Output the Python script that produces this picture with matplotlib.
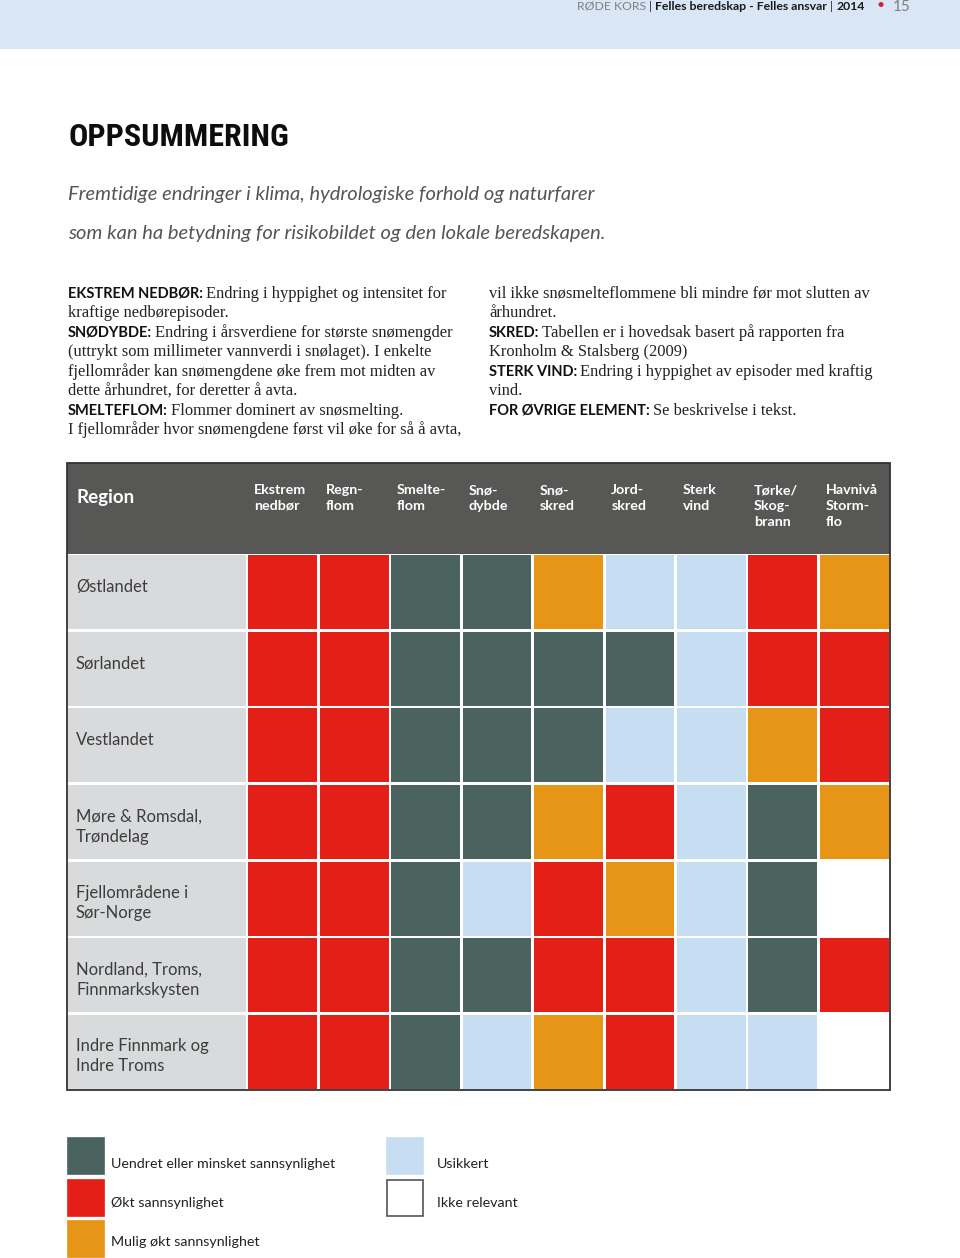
import matplotlib
matplotlib.use("Agg")
import matplotlib.pyplot as plt
from matplotlib.patches import Rectangle

# ---- data ----
regions = ["Østlandet", "Sørlandet", "Vestlandet", "Møre & Romsdal,\nTrøndelag",
           "Fjellområdene i\nSør-Norge", "Nordland, Troms,\nFinnmarkskysten",
           "Indre Finnmark og\nIndre Troms"]
hazards = ["Ekstrem\nnedbør", "Regn-\nflom", "Smelte-\nflom", "Snø-\ndybde", "Snø-\nskred",
           "Jord-\nskred", "Sterk\nvind", "Tørke/\nSkog-\nbrann", "Havnivå\nStorm-\nflo"]

# 0 = uendret/minsket, 1 = økt, 2 = mulig økt, 3 = usikkert, 4 = ikke relevant
ekstrem_nedbor = [1, 1, 1, 1, 1, 1, 1]
regnflom = [1, 1, 1, 1, 1, 1, 1]
smelteflom = [0, 0, 0, 0, 0, 0, 0]
snodybde = [0, 0, 0, 0, 3, 0, 3]
snoskred = [2, 0, 0, 2, 1, 1, 2]
jordskred = [3, 0, 3, 1, 2, 1, 1]
sterk_vind = [3, 3, 3, 3, 3, 3, 3]
torke_skogbrann = [1, 1, 2, 0, 0, 0, 3]
havniva_stormflo = [2, 1, 1, 2, 4, 1, 4]
columns_data = [ekstrem_nedbor, regnflom, smelteflom, snodybde, snoskred,
                jordskred, sterk_vind, torke_skogbrann, havniva_stormflo]

legend_labels = ["Uendret eller minsket sannsynlighet", "Økt sannsynlighet",
                 "Mulig økt sannsynlighet", "Usikkert", "Ikke relevant"]

colors = ["#4a635e", "#e31f17", "#e69516", "#c7ddf2", "#ffffff"]

subtitle = ["Fremtidige endringer i klima, hydrologiske forhold og naturfarer",
            "som kan ha betydning for risikobildet og den lokale beredskapen."]

# (bold lead, rest) per line
text_col1 = [("EKSTREM NEDBØR:", "Endring i hyppighet og intensitet for"),
             ("", "kraftige nedbørepisoder."),
             ("SNØDYBDE:", "Endring i årsverdiene for største snømengder"),
             ("", "(uttrykt som millimeter vannverdi i snølaget). I enkelte"),
             ("", "fjellområder kan snømengdene øke frem mot midten av"),
             ("", "dette århundret, for deretter å avta."),
             ("SMELTEFLOM:", "Flommer dominert av snøsmelting."),
             ("", "I fjellområder hvor snømengdene først vil øke for så å avta,")]
text_col2 = [("", "vil ikke snøsmelteflommene bli mindre før mot slutten av"),
             ("", "århundret."),
             ("SKRED:", "Tabellen er i hovedsak basert på rapporten fra"),
             ("", "Kronholm & Stalsberg (2009)"),
             ("STERK VIND:", "Endring i hyppighet av episoder med kraftig"),
             ("", "vind."),
             ("FOR ØVRIGE ELEMENT:", "Se beskrivelse i tekst.")]

SANS = ["Lato", "DejaVu Sans"]
SERIF = ["Liberation Serif", "DejaVu Serif"]

fig = plt.figure(figsize=(9.6, 12.58), dpi=100)
ax = fig.add_axes([0, 0, 1, 1])
ax.set_xlim(0, 960)
ax.set_ylim(1258, 0)
ax.axis("off")
renderer = fig.canvas.get_renderer()


def runs(x, y, parts):
    # draw text pieces one after another on the same baseline
    for txt, style, gap in parts:
        if not txt:
            continue
        t = ax.text(x, y, txt, va="baseline", ha="left", **style)
        x += t.get_window_extent(renderer).width + gap


# page header band
ax.add_patch(Rectangle((0, 0), 960, 49, color="#d9e6f5", lw=0))
runs(577, 10, [("RØDE KORS", dict(family=SANS, fontsize=8.8, color="#808080"), 3),
               ("|", dict(family=SANS, fontsize=8.8, color="#333333"), 3),
               ("Felles beredskap - Felles ansvar", dict(family=SANS, fontsize=8.8, fontweight="bold", color="#1a1a1a"), 3),
               ("|", dict(family=SANS, fontsize=8.8, color="#333333"), 3),
               ("2014", dict(family=SANS, fontsize=8.8, fontweight="bold", color="#1a1a1a"), 0)])
ax.text(881, 5, "•", fontsize=10, color="#d4202a", ha="center", va="center", family=SANS)
ax.text(893, 11, "15", fontsize=11, color="#808080", ha="left", va="baseline", family=SANS)

# title + subtitle
ax.text(68, 146, "OPPSUMMERING",
        family=["Roboto Condensed", "Liberation Sans Narrow", "DejaVu Sans Condensed", "DejaVu Sans"],
        fontweight="bold", fontstretch="condensed", fontsize=23, color="#0d0d0d",
        va="baseline", ha="left")
for i, line in enumerate(subtitle):
    ax.text(68, 200 + 39 * i, line, family=SANS, style="italic", fontsize=14.5,
            color="#555555", va="baseline", ha="left")

# body text in two columns
for col_x, lines in [(68, text_col1), (489, text_col2)]:
    for i, (lead, rest) in enumerate(lines):
        y = 298 + 19.43 * i
        runs(col_x, y, [(lead, dict(family=SANS, fontweight="bold", fontsize=10.5, color="#111111"), 3),
                        (rest, dict(family=SERIF, fontsize=11.9, color="#222222"), 0)])

# ---- table ----
x0, x_reg, x1 = 67, 247, 890
y_head, y_body, y1 = 463, 554, 1090
n_rows, n_cols = len(regions), len(hazards)
cw = (x1 - x_reg) / n_cols
rh = (y1 - y_body) / n_rows
g = 1.3

ax.add_patch(Rectangle((x0, y_head), x1 - x0, y_body - y_head, color="#575756", lw=0))
ax.text(76, 503, "Region", family=SANS, fontweight="bold", fontsize=13.5, color="white",
        va="baseline", ha="left")
for j, name in enumerate(hazards):
    for k, part in enumerate(name.split("\n")):
        ax.text(x_reg + j * cw + 7, 494.5 + 15.5 * k, part, family=SANS, fontweight="bold",
                fontsize=10.3, color="white", va="baseline", ha="left")

for i, reg in enumerate(regions):
    top = y_body + i * rh
    ax.add_patch(Rectangle((x0, top + g), x_reg - x0 - g, rh - 2 * g, color="#d9dadb", lw=0))
    for k, part in enumerate(reg.split("\n")):
        ax.text(76, top + 38 + 20 * k, part, family=SANS, fontsize=12,
                color="#3d3d3d", va="baseline", ha="left")
    for j, col in enumerate(columns_data):
        ax.add_patch(Rectangle((x_reg + j * cw + g, top + g), cw - 2 * g, rh - 2 * g,
                               color=colors[col[i]], lw=0))

ax.add_patch(Rectangle((x0, y_head), x1 - x0, y1 - y_head, fill=False, ec="#333333", lw=1.3))

# ---- legend ----
legend_box = [(68, 1138), (68, 1180), (68, 1221), (387, 1138), (387, 1180)]
legend_text = [(111, 1168), (111, 1207), (111, 1246), (437, 1168), (437, 1207)]
for k, lab in enumerate(legend_labels):
    lx, ly = legend_box[k]
    ec = "#555555" if colors[k] == "#ffffff" else colors[k]
    ax.add_patch(Rectangle((lx, ly), 36, 36, fc=colors[k], ec=ec, lw=1.2))
    tx, ty = legend_text[k]
    ax.text(tx, ty, lab, family=SANS, fontsize=10.3, color="#222222",
            va="baseline", ha="left")

fig.savefig("out.png", dpi=100)
